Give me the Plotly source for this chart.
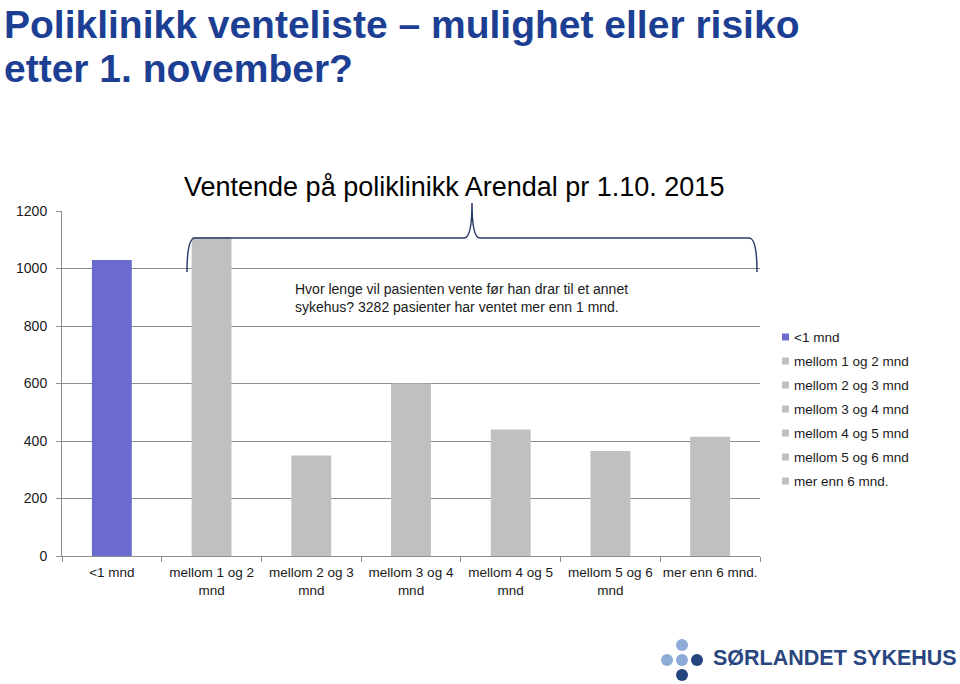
import plotly.graph_objects as go

# ---------------- data ----------------
categories = ["<1 mnd", "mellom 1 og 2 mnd", "mellom 2 og 3 mnd", "mellom 3 og 4 mnd",
              "mellom 4 og 5 mnd", "mellom 5 og 6 mnd", "mer enn 6 mnd."]
tick_labels = ["<1 mnd", "mellom 1 og 2<br>mnd", "mellom 2 og 3<br>mnd", "mellom 3 og 4<br>mnd",
               "mellom 4 og 5<br>mnd", "mellom 5 og 6<br>mnd", "mer enn 6 mnd."]
values = [1030, 1110, 350, 600, 440, 365, 415]
bar_colors = ["#6b6bcf", "#c0c0c0", "#c0c0c0", "#c0c0c0", "#c0c0c0", "#c0c0c0", "#c0c0c0"]
y_ticks = [0, 200, 400, 600, 800, 1000, 1200]

title_line1 = "Poliklinikk venteliste – mulighet eller risiko"
title_line2 = "etter 1. november?"
chart_title = "Ventende på poliklinikk Arendal pr 1.10. 2015"
note_text = "Hvor lenge vil pasienten vente før han drar til et annet<br>sykehus? 3282 pasienter har ventet mer enn 1 mnd."
logo_text = "SØRLANDET SYKEHUS"

# ---------------- geometry helpers ----------------
W, H = 960, 684
L, R, T, B = 62, 760, 211, 556


def px(x):
    return (x - L) / (R - L)


def py(y):
    return (B - y) / (B - T)


FONT = "Liberation Sans, Arial, Helvetica, sans-serif"
GRID = "#8c8c8c"
NAVY = "#1c3f94"

fig = go.Figure()
fig.add_trace(go.Bar(
    x=tick_labels, y=values, marker_color=bar_colors, marker_line_width=0,
    width=0.4, showlegend=False, hoverinfo="x+y",
))

shapes = []
annotations = []

# titles
annotations.append(dict(x=px(2), y=py(1), xref="paper", yref="paper", xanchor="left", yanchor="top",
                        text=f"<b>{title_line1}</b>", showarrow=False,
                        font=dict(family=FONT, size=39, color=NAVY)))
annotations.append(dict(x=px(2), y=py(45), xref="paper", yref="paper", xanchor="left", yanchor="top",
                        text=f"<b>{title_line2}</b>", showarrow=False,
                        font=dict(family=FONT, size=39, color=NAVY)))
annotations.append(dict(x=px(454), y=py(187), xref="paper", yref="paper", xanchor="center", yanchor="middle",
                        text=chart_title, showarrow=False,
                        font=dict(family=FONT, size=27, color="#000000")))

# note text
annotations.append(dict(x=px(293), y=py(298), xref="paper", yref="paper", xanchor="left", yanchor="middle",
                        text=note_text, showarrow=False, align="left",
                        font=dict(family=FONT, size=14, color="#1a1a1a")))

# brace
pts = [(187, 272), (187, 238), (195, 238), (464, 238), (472, 238), (472, 203), (472, 238), (480, 238),
       (749, 238), (757, 238), (757, 272)]
P = [f"{px(a):.5f},{py(b):.5f}" for a, b in pts]
path = (f"M {P[0]} Q {P[1]} {P[2]} L {P[3]} Q {P[4]} {P[5]} Q {P[6]} {P[7]} "
        f"L {P[8]} Q {P[9]} {P[10]}")
shapes.append(dict(type="path", path=path, xref="paper", yref="paper",
                   line=dict(color="#2b3a6b", width=1.5)))

# manual legend
leg_y0 = 337
for i, (lab, col) in enumerate(zip(categories, bar_colors)):
    yc = leg_y0 + 24 * i
    shapes.append(dict(type="rect", xref="paper", yref="paper",
                       x0=px(782), x1=px(789), y0=py(yc + 3.5), y1=py(yc - 3.5),
                       fillcolor=col, line=dict(width=0)))
    annotations.append(dict(x=px(792), y=py(yc), xref="paper", yref="paper", xanchor="left",
                            yanchor="middle", text=lab, showarrow=False,
                            font=dict(family=FONT, size=13.5, color="#1a1a1a")))

# logo
dots = [(682, 645, "#8eaad6"), (667, 660, "#8eaad6"), (682, 660, "#8eaad6"),
        (697, 660, "#24467f"), (682, 675, "#24467f")]
r = 6
for cx, cy, c in dots:
    shapes.append(dict(type="circle", xref="paper", yref="paper",
                       x0=px(cx - r), x1=px(cx + r), y0=py(cy + r), y1=py(cy - r),
                       fillcolor=c, line=dict(width=0)))
annotations.append(dict(x=px(711), y=py(658), xref="paper", yref="paper", xanchor="left", yanchor="middle",
                        text=f"<b>{logo_text}</b>", showarrow=False,
                        font=dict(family=FONT, size=21.5, color="#2a4680")))

fig.update_layout(
    width=W, height=H,
    margin=dict(l=L, r=W - R, t=T, b=H - B, pad=0),
    paper_bgcolor="white", plot_bgcolor="white",
    font=dict(family=FONT, color="#1a1a1a"),
    showlegend=False,
    bargap=0.6,
    xaxis=dict(type="category", range=[-0.5, 6.5], showline=True, linecolor=GRID, linewidth=1,
               ticks="outside", tickson="boundaries", ticklen=5, tickcolor=GRID, showgrid=False,
               tickangle=0, ticklabelstandoff=4,
               tickfont=dict(family=FONT, size=13.5, color="#1a1a1a"), fixedrange=True),
    yaxis=dict(range=[0, 1200], tickvals=y_ticks, showgrid=True, gridcolor=GRID, gridwidth=1,
               showline=True, linecolor=GRID, linewidth=1, ticks="outside", ticklen=5, tickcolor=GRID,
               zeroline=False, ticklabelstandoff=6,
               tickfont=dict(family=FONT, size=14, color="#1a1a1a"), fixedrange=True),
    shapes=shapes,
    annotations=annotations,
)

fig.write_html("out.html")
